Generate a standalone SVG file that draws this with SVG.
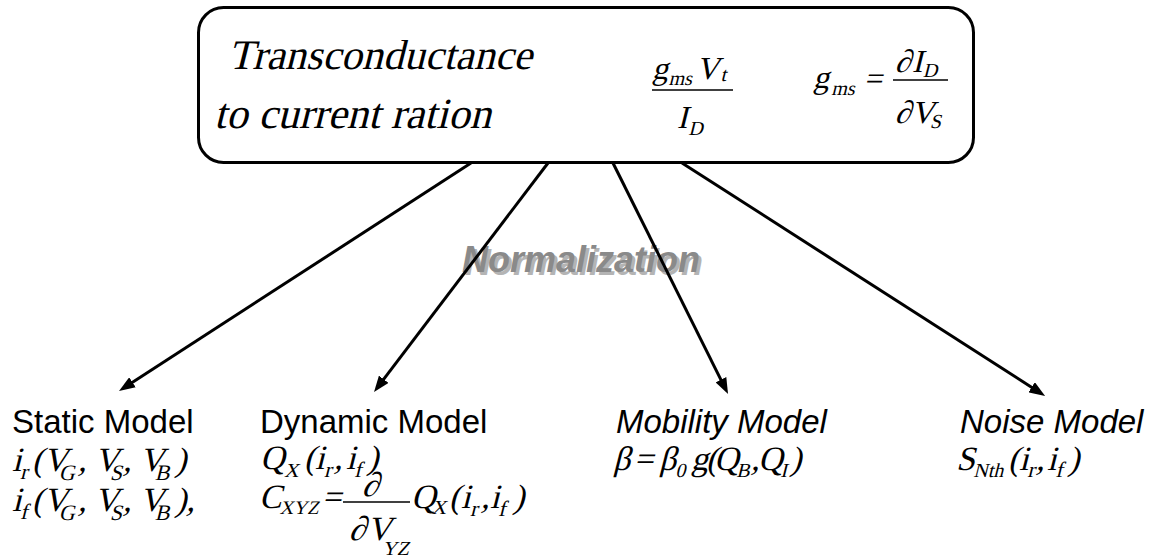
<svg xmlns="http://www.w3.org/2000/svg" width="1154" height="557" viewBox="0 0 1154 557">
<defs>
<style>
.m{font-family:"Liberation Serif","Times New Roman",serif;fill:#000}
.s{font-family:"Liberation Sans",Arial,sans-serif;fill:#000;font-size:33px}
.si{font-family:"Liberation Sans",Arial,sans-serif;font-style:italic;fill:#000;font-size:33px}
.b{font-size:34px}
.sub{font-size:22px}
.sc{font-size:20px}
.conn{stroke:#000;stroke-width:3;fill:none;marker-end:url(#ah)}
.frac{stroke:#000;stroke-width:1.5}
.norm{font-family:"Liberation Sans",Arial,sans-serif;font-weight:bold;font-style:italic;font-size:36px}
</style>
<marker id="ah" markerUnits="userSpaceOnUse" markerWidth="16" markerHeight="12" refX="4" refY="6" orient="auto">
<path d="M0,0 L16,6 L0,12 z" fill="#000"/>
</marker>
</defs>
<rect width="1154" height="557" fill="#fff"/>
<g id="top">
<rect x="198.5" y="7.5" width="775" height="155" rx="25" ry="25" fill="#fff" stroke="#000" stroke-width="3"/>
<text class="m" x="228" y="69" font-size="42" transform="matrix(1,0,-0.25,1,17.25,0)">Transconductance</text>
<text class="m" x="214" y="128" font-size="43" transform="matrix(1,0,-0.25,1,32,0)">to current ration</text>
<text class="m" font-size="32" transform="matrix(1,0,-0.25,1,19.75,0)"><tspan x="652" y="79">g</tspan><tspan x="670" y="85" font-size="20">ms</tspan><tspan x="696" y="79">V</tspan><tspan x="721" y="81" font-size="20">t</tspan></text>
<line class="frac" x1="652" y1="90" x2="733" y2="90"/>
<text class="m" font-size="32" transform="matrix(1,0,-0.25,1,32,0)"><tspan x="677" y="128">I</tspan><tspan x="690" y="135" font-size="20">D</tspan></text>
<text class="m" font-size="32" transform="matrix(1,0,-0.25,1,22,0)"><tspan x="813" y="88">g</tspan><tspan x="833" y="95" font-size="20">ms</tspan><tspan x="864" y="89">=</tspan></text>
<line class="frac" x1="893" y1="80" x2="948" y2="80"/>
<text class="m" font-size="32" transform="matrix(1,0,-0.25,1,18,0)"><tspan x="895" y="72">∂</tspan><tspan x="912" y="72">I</tspan><tspan x="924" y="77" font-size="20">D</tspan></text>
<text class="m" font-size="32" transform="matrix(1,0,-0.25,1,30.75,0)"><tspan x="895" y="123">∂</tspan><tspan x="911" y="123">V</tspan><tspan x="931" y="128" font-size="20">S</tspan></text>
</g>
<g id="normalization">
<text class="norm" x="465" y="275" fill="#b4b4b4">Normalization</text>
<text class="norm" x="462" y="272" fill="#8a8a8a">Normalization</text>
</g>
<g id="connectors">
<path class="conn" d="M471,163 L129.1,384.5"/>
<path class="conn" d="M548,163 L381.3,382.4"/>
<path class="conn" d="M613,163 L722.7,383.3"/>
<path class="conn" d="M682,163 L1035,389.4"/>
</g>
<g id="static">
<text class="s" x="12" y="433">Static Model</text>
<text class="m b" transform="matrix(1,0,-0.25,1,117.75,0)"><tspan x="12" y="471">i</tspan><tspan class="sub" x="22" y="479">r</tspan><tspan x="32" y="471">(V</tspan><tspan class="sub" x="61" y="480">G</tspan><tspan x="78" y="471">, V</tspan><tspan class="sub" x="112" y="480">S</tspan><tspan x="123" y="471">, V</tspan><tspan class="sub" x="157" y="480">B</tspan><tspan x="175" y="471">)</tspan></text>
<text class="m b" transform="matrix(1,0,-0.25,1,127.75,0)"><tspan x="12" y="511">i</tspan><tspan class="sub" x="22" y="519">f</tspan><tspan x="32" y="511">(V</tspan><tspan class="sub" x="61" y="520">G</tspan><tspan x="78" y="511">, V</tspan><tspan class="sub" x="112" y="520">S</tspan><tspan x="123" y="511">, V</tspan><tspan class="sub" x="157" y="520">B</tspan><tspan x="175" y="511">),</tspan></text>
</g>
<g id="dynamic">
<text class="s" x="260" y="433">Dynamic Model</text>
<text class="m b" transform="matrix(1,0,-0.25,1,117.25,0)"><tspan x="260" y="469">Q</tspan><tspan class="sc" x="286" y="477">X</tspan><tspan x="304" y="469">(</tspan><tspan x="315" y="469">i</tspan><tspan class="sub" x="326" y="477">r</tspan><tspan x="334" y="469">,</tspan><tspan x="346" y="469">i</tspan><tspan class="sub" x="356" y="477">f</tspan><tspan x="367" y="469">)</tspan></text>
<text class="m b" transform="matrix(1,0,-0.25,1,127,0)"><tspan x="259" y="508">C</tspan><tspan x="281" y="514" font-size="19">XYZ</tspan><tspan x="322" y="508">=</tspan></text>
<line class="frac" x1="343" y1="502" x2="410" y2="502"/>
<text class="m b" transform="matrix(1,0,-0.25,1,124,0)"><tspan x="362" y="496">∂</tspan></text>
<text class="m b" transform="matrix(1,0,-0.25,1,135,0)"><tspan x="349" y="540">∂</tspan><tspan x="367" y="540">V</tspan><tspan x="386" y="555" font-size="20">YZ</tspan></text>
<text class="m b" transform="matrix(1,0,-0.25,1,127,0)"><tspan x="411" y="508">Q</tspan><tspan class="sc" x="433" y="514">X</tspan><tspan x="449" y="508">(</tspan><tspan x="461" y="508">i</tspan><tspan class="sub" x="472" y="516">r</tspan><tspan x="481" y="508">,</tspan><tspan x="490" y="508">i</tspan><tspan class="sub" x="500" y="516">f</tspan><tspan x="513" y="508">)</tspan></text>
</g>
<g id="mobility">
<text class="si" x="616" y="433">Mobility Model</text>
<text class="m b" transform="matrix(1,0,-0.25,1,117.5,0)"><tspan x="613" y="470">β</tspan><tspan x="634" y="470">=</tspan><tspan x="659" y="470">β</tspan><tspan class="sc" x="677" y="477">0</tspan><tspan x="691" y="470">g</tspan><tspan x="706" y="470">(</tspan><tspan x="714" y="470">Q</tspan><tspan class="sc" x="738" y="477">B</tspan><tspan x="751" y="470">,</tspan><tspan x="758" y="470">Q</tspan><tspan class="sc" x="782" y="477">I</tspan><tspan x="790" y="470">)</tspan></text>
</g>
<g id="noise">
<text class="si" x="960" y="433">Noise Model</text>
<text class="m b" transform="matrix(1,0,-0.25,1,117.5,0)"><tspan x="956" y="470">S</tspan><tspan class="sc" x="975" y="477">Nth</tspan><tspan x="1008" y="470">(</tspan><tspan x="1019" y="470">i</tspan><tspan class="sub" x="1029" y="477">r</tspan><tspan x="1036" y="470">,</tspan><tspan x="1047" y="470">i</tspan><tspan class="sub" x="1057" y="477">f</tspan><tspan x="1068" y="470">)</tspan></text>
</g>
</svg>
